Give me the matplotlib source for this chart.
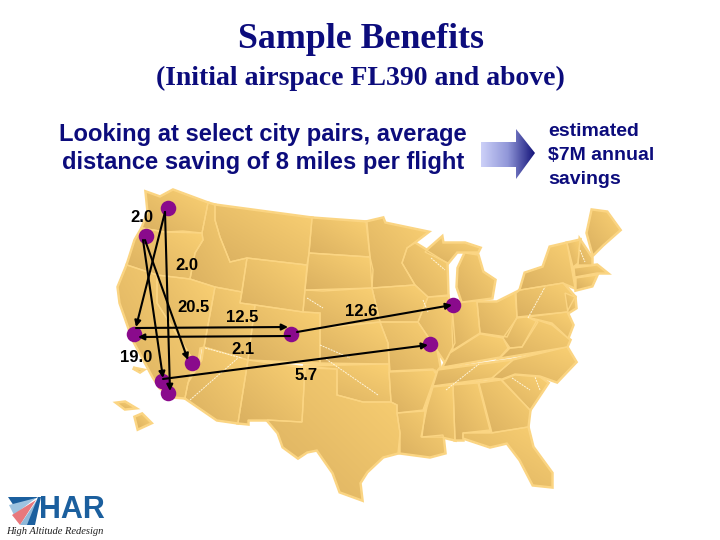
import matplotlib
matplotlib.use("Agg")
import matplotlib.pyplot as plt
from matplotlib.colors import LinearSegmentedColormap
from matplotlib.patches import Polygon
import numpy as np

# === Map outlines in pixels ===
states = {
    "WA": [(146, 192), (160, 197), (173, 190), (208, 203), (202, 233), (183, 231), (165, 232), (142, 228), (148, 212)],
    "OR": [(142, 228), (165, 232), (202, 233), (203, 240), (195, 253), (190, 279), (157, 275), (127, 265), (135, 240)],
    "CA": [(127, 265), (157, 275), (157, 303), (190, 355), (193, 365), (188, 383), (185, 398), (173, 397), (160, 388), (153, 377), (133, 340), (120, 303), (118, 287)],
    "NV": [(157, 275), (190, 279), (215, 287), (204, 347), (200, 348), (198, 362), (190, 355), (157, 303)],
    "ID": [(208, 203), (215, 205), (215, 220), (220, 237), (230, 262), (247, 258), (242, 292), (215, 287), (190, 279), (195, 253), (203, 240), (202, 233)],
    "MT": [(215, 205), (312, 218), (309, 253), (307, 265), (247, 258), (230, 262), (220, 237), (215, 220)],
    "WY": [(247, 258), (307, 265), (303, 312), (255, 305), (240, 303)],
    "UT": [(215, 287), (242, 292), (240, 303), (255, 305), (248, 360), (204, 347)],
    "CO": [(255, 305), (303, 312), (320, 313), (320, 363), (248, 360)],
    "AZ": [(204, 347), (248, 360), (238, 423), (217, 420), (185, 398), (188, 383), (202, 360)],
    "NM": [(248, 360), (305, 368), (302, 422), (267, 420), (248, 420), (248, 424), (238, 423)],
    "ND": [(312, 218), (367, 222), (370, 257), (309, 253)],
    "SD": [(309, 253), (370, 257), (373, 270), (372, 288), (323, 291), (305, 290)],
    "NE": [(305, 290), (372, 288), (380, 322), (320, 328), (320, 313), (303, 312)],
    "KS": [(320, 328), (380, 322), (388, 343), (389, 364), (320, 363)],
    "OK": [(303, 366), (389, 364), (389, 372), (391, 402), (363, 402), (337, 395), (337, 369)],
    "TX": [(305, 368), (337, 369), (337, 395), (363, 402), (391, 402), (397, 405), (397, 413), (400, 433), (398, 453), (383, 457), (367, 472), (360, 483), (362, 500), (340, 492), (333, 473), (317, 450), (307, 452), (298, 458), (283, 447), (278, 433), (267, 420), (302, 422)],
    "MN": [(366, 222), (383, 218), (385, 223), (428, 232), (407, 248), (402, 263), (415, 285), (372, 288), (370, 257)],
    "IA": [(372, 288), (415, 285), (428, 297), (418, 322), (380, 322)],
    "MO": [(380, 322), (418, 322), (437, 350), (440, 367), (435, 373), (433, 369), (390, 371), (388, 343)],
    "AR": [(389, 372), (435, 370), (436, 374), (423, 410), (397, 413), (397, 405), (391, 402)],
    "LA": [(397, 413), (425, 411), (422, 437), (443, 435), (445, 453), (430, 457), (400, 453), (400, 433)],
    "WI": [(407, 248), (415, 243), (447, 263), (448, 295), (428, 297), (415, 285), (402, 263)],
    "IL": [(428, 297), (448, 296), (453, 317), (455, 343), (445, 362), (437, 350), (418, 322)],
    "MIU": [(425, 252), (442, 237), (443, 243), (465, 243), (480, 248), (478, 252), (457, 252), (448, 263)],
    "MIL": [(458, 268), (465, 253), (478, 255), (483, 272), (495, 280), (492, 298), (462, 302), (457, 287)],
    "IN": [(453, 303), (477, 301), (480, 333), (453, 350), (452, 328)],
    "OH": [(477, 302), (497, 302), (515, 293), (517, 317), (507, 337), (480, 333)],
    "KY": [(480, 334), (503, 338), (508, 348), (500, 357), (443, 367), (450, 353)],
    "TN": [(438, 370), (513, 360), (492, 378), (433, 386)],
    "MS": [(433, 387), (453, 385), (455, 440), (442, 437), (421, 437), (427, 407)],
    "AL": [(453, 385), (478, 383), (490, 430), (463, 433), (463, 440), (455, 440)],
    "GA": [(479, 383), (501, 380), (530, 410), (528, 427), (492, 433)],
    "FL": [(463, 433), (490, 433), (522, 428), (528, 427), (533, 447), (552, 473), (552, 487), (533, 485), (520, 460), (507, 443), (490, 447), (463, 438)],
    "SC": [(502, 380), (515, 375), (540, 377), (548, 383), (530, 410)],
    "NC": [(492, 378), (513, 360), (567, 347), (576, 362), (557, 382), (540, 376), (515, 374), (502, 379)],
    "VA": [(500, 358), (510, 348), (522, 347), (537, 320), (552, 325), (570, 340), (567, 347)],
    "WV": [(503, 338), (517, 318), (527, 317), (538, 322), (522, 347), (510, 348)],
    "PA": [(516, 293), (520, 290), (563, 283), (575, 297), (567, 312), (517, 317)],
    "MD": [(527, 317), (567, 312), (573, 325), (568, 338), (552, 323)],
    "NJ": [(565, 293), (575, 297), (576, 308), (568, 313)],
    "NY": [(520, 290), (525, 273), (543, 267), (550, 247), (567, 243), (575, 288), (563, 283)],
    "VT": [(567, 243), (580, 240), (578, 263), (573, 267)],
    "NH": [(580, 240), (592, 258), (592, 265), (578, 265)],
    "ME": [(587, 233), (592, 210), (607, 212), (620, 230), (603, 245), (593, 255)],
    "MA": [(574, 268), (597, 265), (607, 273), (597, 273), (575, 277)],
    "CT": [(576, 278), (597, 275), (592, 286), (576, 290)],
    "HI1": [(135, 417), (142, 414), (151, 423), (138, 429)],
    "HI2": [(117, 403), (125, 402), (135, 408), (125, 409)],
    "CI1": [(133, 368), (143, 370), (140, 372)],
}

# faint white route streaks on the map
streak_x = [[190, 238], [205, 242], [307, 323], [320, 350], [326, 378], [431, 445], [423, 428], [528, 545], [446, 479], [512, 530], [540, 535], [580, 585]]
streak_y = [[400, 358], [348, 358], [298, 308], [345, 358], [359, 395], [258, 270], [300, 312], [318, 287], [390, 364], [378, 390], [390, 377], [250, 262]]

# === Cities and flights ===
city_x = [168, 146, 134, 192, 162, 168, 291, 453, 430]
city_y = [208, 236, 334, 363, 381, 393, 334, 305, 344]
route_from = [(165, 212), (165, 212), (143, 240), (145, 240), (136, 328), (290, 336), (297, 332), (163, 379)]
route_to = [(136, 327), (170, 391), (163, 378), (188, 360), (288, 327), (138, 337), (452, 305), (428, 345)]
saving_labels = ["2.0", "2.0", "20.5", "12.5", "12.6", "19.0", "2.1", "5.7"]
label_x = [142, 187, 194, 242, 361, 136, 243, 306]
label_y = [217, 265, 308, 318, 311, 357, 350, 376]

map_cmap = LinearSegmentedColormap.from_list("map", ["#dab060", "#fad073"])
arrow_cmap = LinearSegmentedColormap.from_list("arrow", ["#ccd0f8", "#9096d8", "#14147a"])
navy = "#0c0c7c"
border = "#fbd583"
serif = "Liberation Serif"
sans = "Liberation Sans"

fig = plt.figure(figsize=(7.2, 5.4), dpi=100)
ax = fig.add_axes([0, 0, 1, 1])


def gradient_fill(points, grad, cmap):
    xs = [p[0] for p in points]
    ys = [p[1] for p in points]
    patch = Polygon(points, closed=True, transform=ax.transData, fc="none", ec="none")
    ax.add_patch(patch)
    im = ax.imshow(grad, cmap=cmap, vmin=0, vmax=1, aspect="auto", interpolation="bilinear",
                   extent=(min(xs), max(xs), max(ys), min(ys)), zorder=1)
    im.set_clip_path(patch)


# each state is shaded darker to the lower left
yy, xx = np.mgrid[0:1:40j, 0:1:40j]
state_grad = (xx + (1 - yy)) / 2
for name, pts in states.items():
    # thick underlay closes the small gaps between neighbouring states
    ax.add_patch(Polygon(pts, closed=True, fc=border, ec=border, lw=2.5, zorder=0.5))
for name, pts in states.items():
    gradient_fill(pts, state_grad, map_cmap)
    ax.add_patch(Polygon(pts, closed=True, fc="none", ec=border, lw=1.0, zorder=2))

for sx, sy in zip(streak_x, streak_y):
    ax.plot(sx, sy, color="#fff6dc", lw=0.7, ls=(0, (2, 1)), zorder=3)

# block arrow between the two statements
arrow_pts = [(481, 142), (516, 142), (516, 129), (535, 153), (516, 179), (516, 167), (481, 167)]
gradient_fill(arrow_pts, np.linspace(0, 1, 60).reshape(1, -1), arrow_cmap)

for start, end in zip(route_from, route_to):
    ax.annotate("", xy=end, xytext=start, zorder=5,
                arrowprops=dict(arrowstyle="-|>", color="black", lw=1.5, mutation_scale=9,
                                shrinkA=0, shrinkB=0))
ax.scatter(city_x, city_y, s=125, color="#8a0a8c", linewidths=0, zorder=4)

for txt, x, y in zip(saving_labels, label_x, label_y):
    ax.text(x, y, txt, family=sans, fontsize=12, fontweight="bold", ha="center", va="center", zorder=6)

# text blocks
ax.text(361, 40, "Sample Benefits", family=serif, fontsize=25.8, fontweight="bold", color=navy, ha="center", va="center")
ax.text(360, 78, "(Initial airspace FL390 and above)", family=serif, fontsize=20, fontweight="bold", color=navy, ha="center", va="center")
ax.text(263, 134, "Looking at select city pairs, average", family=sans, fontsize=17.1, fontweight="bold", color=navy, ha="center", va="center")
ax.text(263, 163, "distance saving of 8 miles per flight", family=sans, fontsize=17.1, fontweight="bold", color=navy, ha="center", va="center")
for txt, y in zip(["estimated", "$7M annual", "savings"], [132, 156, 180]):
    ax.text(548, y, txt.replace("$", r"\$"), family=sans, fontsize=14, fontweight="bold", color=navy, ha="left", va="center")

# HAR logo
logo_blue = "#1b5f9e"
logo_shapes = [
    ([(8, 497), (38, 497), (16, 509)], logo_blue),
    ([(9, 505), (36, 498), (14, 515)], "#9dc3e0"),
    ([(12, 515), (36, 500), (20, 525)], "#e8787c"),
    ([(20, 525), (37, 500), (30, 525)], "#8fb8d8"),
    ([(27, 525), (38, 497), (41, 497), (35, 525)], logo_blue),
]
for pts, colour in logo_shapes:
    ax.add_patch(Polygon(pts, closed=True, fc=colour, ec="none", zorder=2))
ax.text(72, 510, "HAR", family=sans, fontsize=22, fontweight="bold", color=logo_blue, ha="center", va="center")
ax.text(55, 531, "High Altitude Redesign", family=serif, style="italic", fontsize=7.6, color="#202020", ha="center", va="center")

ax.set_xlim(0, 720)
ax.set_ylim(540, 0)
ax.axis("off")
fig.savefig("out.png", dpi=100, facecolor="white")
